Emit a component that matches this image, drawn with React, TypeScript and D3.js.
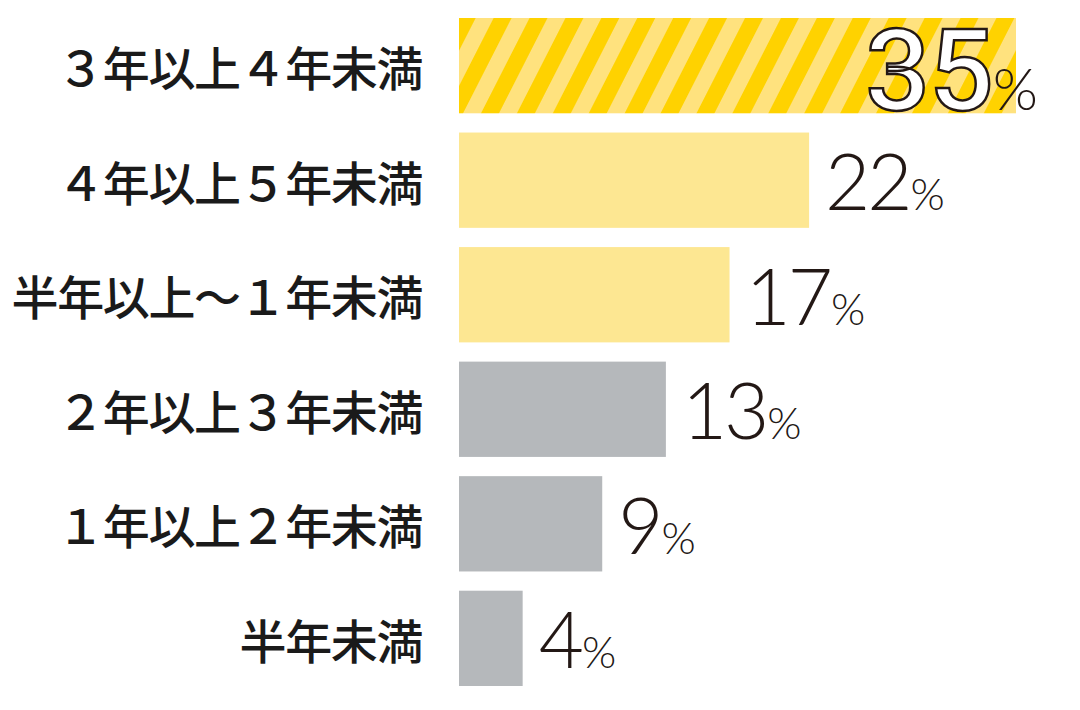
import React from "react";
import * as d3 from "d3";

// 勤続年数の分布 (%)
const categories = [
  "３年以上４年未満",
  "４年以上５年未満",
  "半年以上～１年未満",
  "２年以上３年未満",
  "１年以上２年未満",
  "半年未満",
];
const values = [35, 22, 17, 13, 9, 4];
const groups = ["top", "high", "high", "low", "low", "low"];

const W = 1080;
const H = 710;

const fills: Record<string, string> = {
  top: "url(#stripes)",
  high: "#fde792",
  low: "#b5b8bb",
};

const App = () => {
  const x = d3.scaleLinear().domain([0, 35]).range([459, 1016]);
  const y = d3
    .scaleBand<string>()
    .domain(categories)
    .range([18, 686])
    .paddingInner(0.168)
    .paddingOuter(0);

  return (
    <svg
      width={W}
      height={H}
      style={{ position: "absolute", left: 0, top: 0, background: "#fff" }}
    >
      <defs>
        <pattern
          id="stripes"
          patternUnits="userSpaceOnUse"
          width={32}
          height={40}
          patternTransform="rotate(27)"
        >
          <rect width={32} height={40} fill="#ffe27e" />
          <rect width={16} height={40} fill="#ffd200" />
        </pattern>
      </defs>

      {categories.map((c, i) => {
        const y0 = y(c)!;
        const cy = y0 + y.bandwidth() / 2;
        const isTop = groups[i] === "top";
        return (
          <g key={c}>
            <rect
              x={x(0)}
              y={y0}
              width={x(values[i]) - x(0)}
              height={y.bandwidth()}
              fill={fills[groups[i]]}
            />
            <text
              x={422}
              y={cy}
              textAnchor="end"
              dominantBaseline="central"
              fontFamily="'Noto Sans CJK JP', sans-serif"
              fontWeight={500}
              fontSize={47}
              letterSpacing={-1.4}
              fill="#1a1a1a"
            >
              {c}
            </text>
            {isTop ? (
              <text
                x={1038}
                y={cy + 44}
                textAnchor="end"
                fill="#231815"
              >
                <tspan
                  fontFamily="Roboto, sans-serif"
                  fontSize={114}
                  fontWeight={500}
                  fill="#fff"
                  stroke="#231815"
                  strokeWidth={2.5}
                  letterSpacing={-1}
                >
                  {values[i]}
                </tspan>
                <tspan
                  fontFamily="Lato, sans-serif"
                  fontSize={58}
                  fontWeight={300}
                  dx={0}
                >
                  %
                </tspan>
              </text>
            ) : (
              <text
                x={x(values[i]) + 16}
                y={cy + 30}
                fontFamily="Lato, sans-serif"
                fontWeight={300}
                fill="#231815"
              >
                <tspan fontSize={78} letterSpacing={-3}>
                  {values[i]}
                </tspan>
                <tspan fontSize={44} dx={1}>
                  %
                </tspan>
              </text>
            )}
          </g>
        );
      })}
    </svg>
  );
};

export default App;
